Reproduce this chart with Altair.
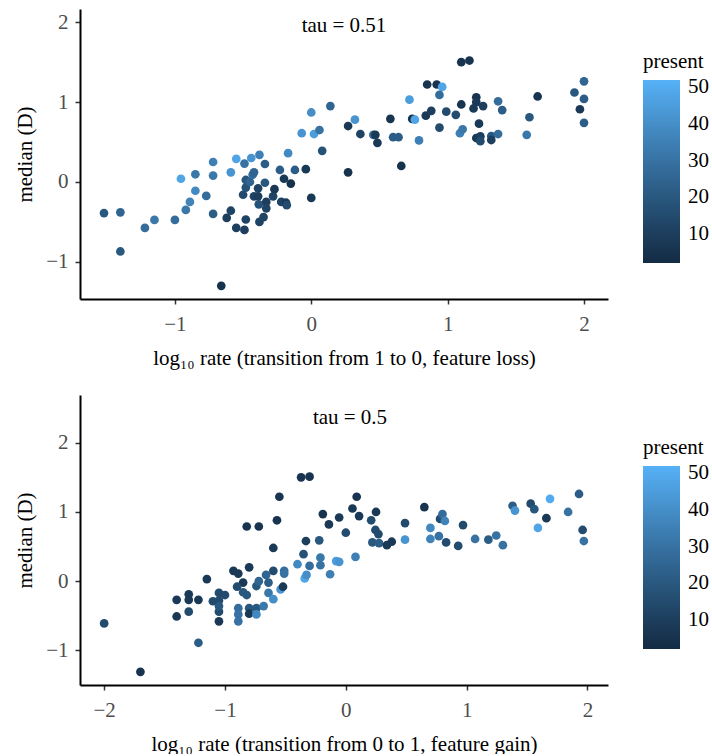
import altair as alt
import pandas as pd

# Panel 1: feature loss
loss_x = [-1.52, -1.40, -1.40, -1.22, -1.15, -1.00, -0.956, -0.92, -0.89, -0.85,
          -0.85, -0.77, -0.72, -0.72, -0.72, -0.66, -0.62, -0.59, -0.59, -0.55,
          -0.55, -0.49, -0.48, -0.49, -0.48, -0.48, -0.50, -0.45, -0.44, -0.43,
          -0.42, -0.38, -0.42, -0.39, -0.39, -0.385, -0.38, -0.35, -0.34, -0.34,
          -0.33, -0.33, -0.28, -0.27, -0.23, -0.22, -0.20, -0.185, -0.18, -0.17,
          -0.15, -0.12, -0.07, -0.04, 0.0, 0.0, 0.02, 0.06, 0.08, 0.14,
          0.27, 0.27, 0.32, 0.36, 0.455, 0.47, 0.485, 0.58, 0.60, 0.64,
          0.66, 0.72, 0.74, 0.76, 0.79, 0.84, 0.85, 0.88, 0.92, 0.96,
          0.94, 0.94, 0.99, 1.06, 1.09, 1.11, 1.10, 1.10, 1.16, 1.21,
          1.21, 1.19, 1.26, 1.23, 1.21, 1.24, 1.24, 1.32, 1.32, 1.37,
          1.40, 1.37, 1.58, 1.60, 1.66, 1.93, 2.00, 2.00, 1.97, 2.00]
loss_y = [-0.39, -0.38, -0.87, -0.575, -0.475, -0.475, 0.04, -0.35, -0.25, -0.11,
          0.096, -0.175, 0.25, 0.08, -0.40, -1.30, -0.45, -0.36, 0.12, 0.29,
          -0.575, -0.60, -0.47, 0.23, 0.025, -0.07, -0.16, 0.0, 0.30, 0.09,
          0.12, 0.34, -0.18, -0.08, -0.18, -0.28, -0.50, -0.44, -0.01, 0.225,
          -0.25, -0.33, -0.18, -0.09, 0.15, -0.25, 0.04, -0.26, -0.29, 0.36,
          -0.02, 0.15, 0.61, 0.16, 0.87, -0.20, 0.60, 0.65, 0.39, 0.95,
          0.70, 0.12, 0.78, 0.60, 0.59, 0.59, 0.49, 0.79, 0.56, 0.56,
          0.20, 1.03, 0.79, 0.78, 0.52, 0.83, 1.22, 0.89, 1.22, 1.19,
          1.09, 0.68, 0.88, 0.84, 0.61, 0.66, 0.97, 1.50, 1.52, 1.06,
          1.00, 0.92, 0.95, 0.73, 0.55, 0.57, 0.51, 0.575, 0.525, 1.01,
          0.90, 0.60, 0.59, 0.81, 1.07, 1.12, 1.26, 1.04, 0.91, 0.74]
loss_present = [20, 25, 20, 28, 32, 28, 48, 32, 36, 38,
                32, 28, 35, 32, 22, 5, 10, 12, 42, 48,
                10, 10, 12, 30, 20, 18, 15, 25, 42, 28,
                25, 35, 12, 12, 10, 18, 12, 12, 20, 22,
                10, 12, 12, 8, 22, 12, 8, 8, 15, 38,
                5, 22, 42, 8, 40, 8, 45, 30, 18, 25,
                8, 5, 42, 12, 28, 8, 8, 6, 22, 22,
                5, 45, 6, 48, 35, 8, 6, 10, 6, 48,
                28, 15, 15, 15, 35, 32, 6, 6, 6, 6,
                8, 8, 10, 8, 8, 10, 15, 20, 10, 28,
                22, 28, 32, 20, 6, 20, 25, 22, 8, 22]

# Panel 2: feature gain
gain_x = [-2.0, -1.70, -1.22, -1.40, -1.40, -1.30, -1.30, -1.30, -1.22, -1.15,
          -1.10, -1.05, -1.05, -1.05, -1.05, -1.0, -1.05, -0.93, -0.89, -0.82,
          -0.72, -0.80, -0.85, -0.90, -0.85, -0.82, -0.89, -0.89, -0.89, -0.80,
          -0.80, -0.74, -0.74, -0.74, -0.72, -0.68, -0.66, -0.64, -0.64, -0.60,
          -0.60, -0.60, -0.57, -0.55, -0.54, -0.51, -0.51, -0.52, -0.40, -0.35,
          -0.33, -0.34, -0.325, -0.30, -0.37, -0.30, -0.22, -0.21, -0.21, -0.19,
          -0.14, -0.13, -0.08, -0.055, -0.055, 0.0, 0.055, 0.08, 0.09, 0.11,
          0.21, 0.25, 0.245, 0.27, 0.22, 0.275, 0.34, 0.38, 0.49, 0.49,
          0.65, 0.70, 0.70, 0.77, 0.78, 0.80, 0.82, 0.83, 0.93, 0.97,
          1.07, 1.18, 1.245, 1.30, 1.38, 1.40, 1.53, 1.56, 1.59, 1.66,
          1.69, 1.84, 1.93, 1.96, 1.97]
gain_y = [-0.61, -1.31, -0.89, -0.27, -0.51, -0.19, -0.27, -0.44, -0.27, 0.03,
          -0.29, -0.17, -0.28, -0.44, -0.58, -0.20, -0.36, 0.15, 0.11, 0.79,
          0.79, 0.20, -0.02, -0.08, -0.16, -0.20, -0.39, -0.48, -0.58, -0.39,
          -0.47, -0.39, -0.48, -0.07, 0.0, -0.36, 0.09, -0.02, -0.17, -0.26,
          0.15, 0.48, 0.88, 1.22, -0.12, 0.15, 0.11, -0.08, 0.245, 0.39,
          0.58, 0.04, 0.09, 0.22, 1.50, 1.51, 0.59, 0.34, 0.23, 0.97,
          0.82, 0.10, 0.29, 0.28, 0.92, 0.70, 1.05, 0.35, 1.22, 0.94,
          0.88, 1.00, 0.74, 0.68, 0.56, 0.55, 0.52, 0.57, 0.84, 0.60,
          1.07, 0.77, 0.61, 0.65, 0.90, 0.97, 0.87, 0.56, 0.51, 0.81,
          0.61, 0.60, 0.66, 0.52, 1.09, 1.02, 1.12, 1.04, 0.77, 0.91,
          1.19, 1.00, 1.26, 0.74, 0.58]
gain_present = [15, 6, 22, 8, 8, 8, 8, 15, 8, 8,
                15, 15, 15, 15, 8, 15, 20, 8, 8, 6,
                6, 8, 8, 15, 20, 20, 28, 30, 30, 20,
                8, 20, 38, 20, 25, 32, 25, 22, 32, 40,
                15, 8, 6, 6, 42, 28, 30, 8, 38, 18,
                10, 48, 40, 28, 6, 6, 20, 32, 30, 6,
                8, 35, 45, 42, 8, 15, 8, 35, 6, 8,
                15, 8, 15, 15, 20, 22, 8, 8, 15, 42,
                6, 38, 36, 30, 15, 28, 36, 15, 15, 15,
                30, 22, 30, 30, 22, 42, 15, 20, 48, 8,
                50, 30, 22, 15, 30]

FONT = "Liberation Serif"
FS = 21
PW, PH = 528, 290


def panel(xs, ys, cs, xtitle, xdomain, ydomain, xticks, tau, tau_x, tau_y):
    df = pd.DataFrame({"x": xs, "y": ys, "present": cs})
    pts = alt.Chart(df).mark_circle(size=76, opacity=1).encode(
        x=alt.X("x:Q", scale=alt.Scale(domain=xdomain, nice=False, zero=False),
                axis=alt.Axis(values=xticks, title=xtitle, labelPadding=9,
                              titlePadding=13)),
        y=alt.Y("y:Q", scale=alt.Scale(domain=ydomain, nice=False, zero=False),
                axis=alt.Axis(values=[-1, 0, 1, 2], title="median (D)",
                              labelPadding=7, titlePadding=10)),
        color=alt.Color("present:Q",
                        scale=alt.Scale(domain=[2, 52], range=["#132B43", "#56B1F7"],
                                        interpolate="lab"),
                        legend=alt.Legend(title="present", orient="none",
                                          legendX=563, legendY=42,
                                          values=[10, 20, 30, 40, 50],
                                          gradientLength=183, gradientThickness=37,
                                          gradientStrokeWidth=0, titlePadding=8,
                                          labelOffset=8, labelFont=FONT,
                                          labelFontSize=FS, labelColor="black",
                                          titleFont=FONT, titleFontSize=FS,
                                          titleFontWeight="normal",
                                          titleColor="black")),
    )
    txt = alt.Chart(pd.DataFrame({"label": [tau]})).mark_text(
        font=FONT, fontSize=FS, color="black", baseline="alphabetic", align="center"
    ).encode(x=alt.value(tau_x), y=alt.value(tau_y), text="label:N")
    return alt.layer(pts, txt).properties(width=PW, height=PH)


p1 = panel(loss_x, loss_y, loss_present,
           "log₁₀ rate (transition from 1 to 0, feature loss)",
           [-1.696, 2.176], [-1.465, 2.165], [-1, 0, 1, 2],
           "tau = 0.51", 264, 23)
p2 = panel(gain_x, gain_y, gain_present,
           "log₁₀ rate (transition from 0 to 1, feature gain)",
           [-2.2, 2.17], [-1.5, 2.69], [-2, -1, 0, 1, 2],
           "tau = 0.5", 270, 29)

chart = alt.vconcat(p1, p2, spacing=27).resolve_scale(
    color="independent").resolve_legend(color="independent").properties(
    padding={"left": 14, "top": 9, "right": 0, "bottom": 0}
).configure_view(stroke=None).configure_axis(
    grid=False, domainColor="black", domainWidth=2, tickColor="#333333",
    tickWidth=1.5, tickSize=5, labelFont=FONT, labelFontSize=FS,
    labelColor="#4D4D4D", titleFont=FONT, titleFontSize=FS, titleColor="black",
    titleFontWeight="normal"
)

chart.save("out.html", embed_options={"renderer": "svg", "actions": False})
